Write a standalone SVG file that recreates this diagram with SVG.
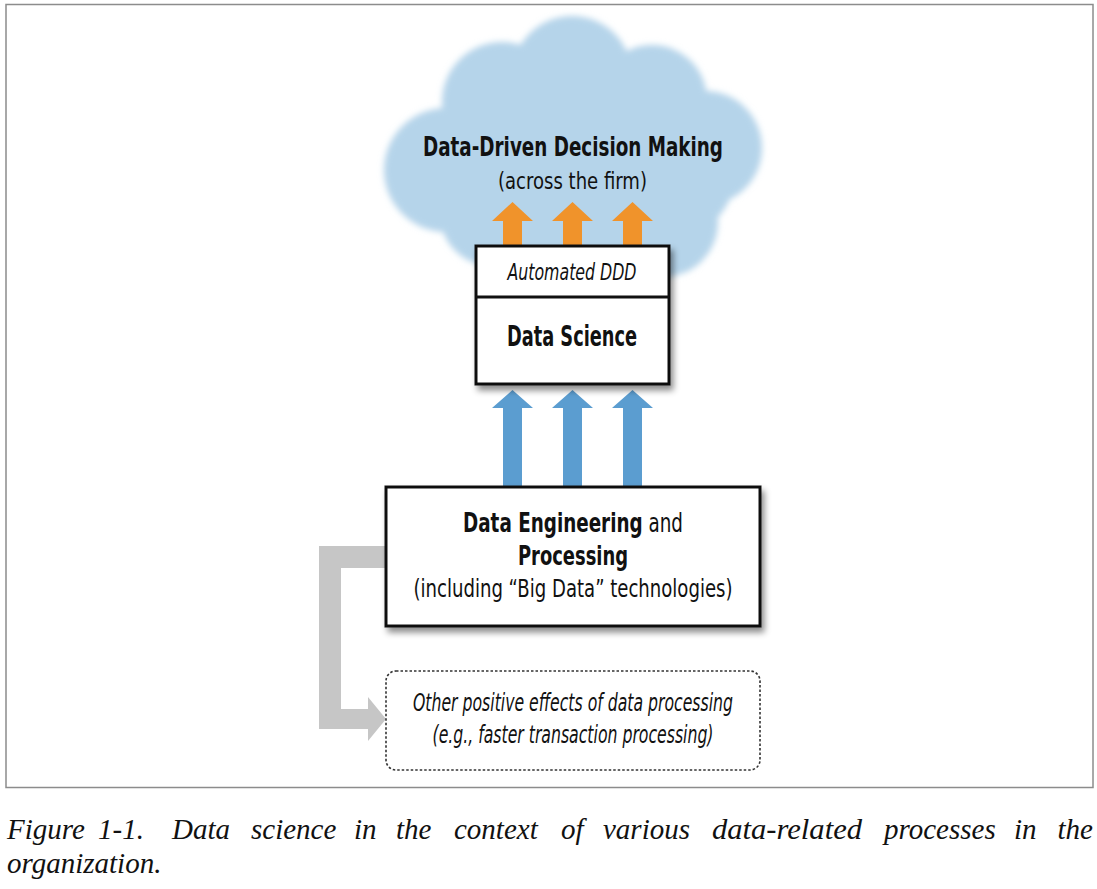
<svg xmlns="http://www.w3.org/2000/svg" width="1097" height="889" viewBox="0 0 1097 889">
<style>
.sans{font-family:"Liberation Sans Narrow","DejaVu Sans Condensed","Liberation Sans",sans-serif;fill:#111}
.b{font-weight:bold}
.it{font-style:italic}
.box{fill:#fff;stroke:#111;stroke-width:3}
.cap{font-family:"Liberation Serif","DejaVu Serif",serif;font-style:italic;font-size:29px;fill:#111}
</style>
<defs>
<filter id="blur" x="-10%" y="-10%" width="120%" height="120%"><feGaussianBlur stdDeviation="3"/></filter>
<filter id="shadow" x="-10%" y="-10%" width="125%" height="130%"><feDropShadow dx="3" dy="5" stdDeviation="3" flood-color="#000" flood-opacity="0.45"/></filter>
<path id="upO" d="M-9.5 44 V19 H-20.5 L0 0 L20.5 19 H9.5 V44 Z"/>
<path id="upB" d="M-9.5 97 V18 H-20.5 L0 0 L20.5 18 H9.5 V97 Z"/>
</defs>
<rect x="6" y="4.5" width="1087" height="783" fill="#fff" stroke="#8c8c8c" stroke-width="1.5"/>
<g id="cloud">
<g fill="#b5d4ea" filter="url(#blur)">
<circle cx="572" cy="76" r="60"/>
<circle cx="502" cy="102" r="60"/>
<circle cx="652" cy="100" r="55"/>
<circle cx="705" cy="148" r="57"/>
<circle cx="446" cy="170" r="62"/>
<circle cx="492" cy="214" r="52"/>
<circle cx="663" cy="222" r="55"/>
<ellipse cx="575" cy="175" rx="160" ry="95"/>
</g>
<text class="sans b" x="573" y="156" font-size="27" text-anchor="middle" textLength="300" lengthAdjust="spacingAndGlyphs">Data-Driven Decision Making</text>
<text class="sans" x="572.5" y="189" font-size="23" text-anchor="middle" textLength="149" lengthAdjust="spacingAndGlyphs">(across the firm)</text>
</g>
<g id="connectors">
<g fill="#f0932b">
<use href="#upO" x="512.5" y="202"/>
<use href="#upO" x="572.5" y="202"/>
<use href="#upO" x="632.5" y="202"/>
</g>
<g fill="#5b9dd0">
<use href="#upB" x="512.5" y="390"/>
<use href="#upB" x="572.5" y="390"/>
<use href="#upB" x="632.5" y="390"/>
</g>
<path fill="#c6c6c6" d="M388 546 H319 V729 H368 V741 L386 719 L368 697 V709 H341 V568 H388 Z"/>
</g>
<g id="data-science">
<rect class="box" x="476" y="246" width="193" height="138" filter="url(#shadow)"/>
<line x1="476" y1="297" x2="669" y2="297" stroke="#111" stroke-width="3"/>
<text class="sans it" x="572" y="280" font-size="23" text-anchor="middle" textLength="129" lengthAdjust="spacingAndGlyphs">Automated DDD</text>
<text class="sans b" x="572" y="346" font-size="28" text-anchor="middle" textLength="130" lengthAdjust="spacingAndGlyphs">Data Science</text>
</g>
<g id="data-engineering">
<rect class="box" x="386" y="487" width="374" height="139" filter="url(#shadow)"/>
<text class="sans" x="573" y="532" font-size="27" text-anchor="middle" textLength="220" lengthAdjust="spacingAndGlyphs"><tspan class="b">Data Engineering</tspan> and</text>
<text class="sans b" x="573" y="565" font-size="27" text-anchor="middle" textLength="110" lengthAdjust="spacingAndGlyphs">Processing</text>
<text class="sans" x="573" y="597" font-size="25" text-anchor="middle" textLength="319" lengthAdjust="spacingAndGlyphs">(including “Big Data” technologies)</text>
</g>
<g id="other-effects">
<rect x="386" y="671" width="374" height="99" rx="10" ry="10" fill="#fff" stroke="#333" stroke-width="1.6" stroke-dasharray="2.5 2"/>
<text class="sans it" x="573" y="711" font-size="24" text-anchor="middle" textLength="320" lengthAdjust="spacingAndGlyphs">Other positive effects of data processing</text>
<text class="sans it" x="573" y="743" font-size="24" text-anchor="middle" textLength="281" lengthAdjust="spacingAndGlyphs">(e.g., faster transaction processing)</text>
</g>
<g id="caption" class="cap">
<text x="7" y="839">Figure</text>
<text x="98" y="839">1-1.</text>
<text x="172" y="839">Data</text>
<text x="251" y="839">science</text>
<text x="354" y="839">in</text>
<text x="396" y="839">the</text>
<text x="454" y="839">context</text>
<text x="561" y="839">of</text>
<text x="603" y="839">various</text>
<text x="712" y="839" textLength="150" lengthAdjust="spacingAndGlyphs">data-related</text>
<text x="884" y="839">processes</text>
<text x="1014" y="839">in</text>
<text x="1093" y="839" text-anchor="end">the</text>
<text x="7" y="873">organization.</text>
</g>
</svg>
